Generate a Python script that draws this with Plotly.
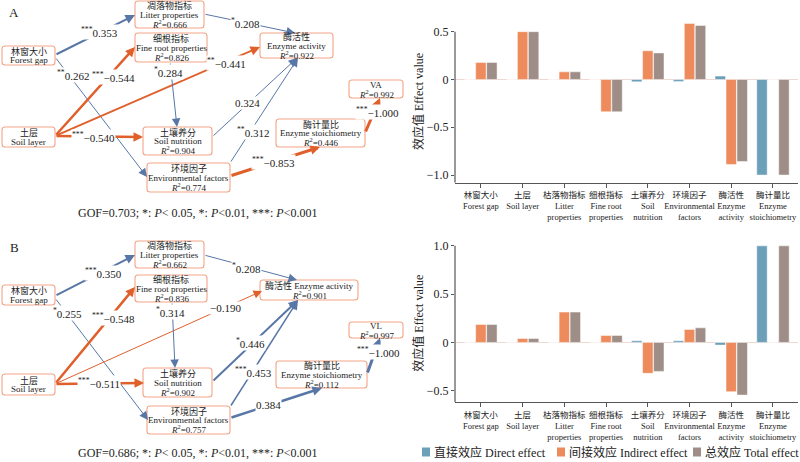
import plotly.graph_objects as go

# ---- data ----
# bar chart categories (right panels)
categories = [
    '林窗大小<br>Forest gap',
    '土层<br>Soil layer',
    '枯落物指标<br>Litter<br>properties',
    '细根指标<br>Fine root<br>properties',
    '土壤养分<br>Soil<br>nutrition',
    '环境因子<br>Environmental<br>factors',
    '酶活性<br>Enzyme<br>activity',
    '酶计量比<br>Enzyme<br>stoichiometry',
]
series_names = ['直接效应 Direct effect', '间接效应 Indirect effect', '总效应 Total effect']

# effect values, panel A (VA)
direct_a = [0, 0, 0, 0, -0.025, -0.02, 0.035, -1.0]
indirect_a = [0.178, 0.5, 0.08, -0.338, 0.30, 0.586, -0.889, 0]
total_a = [0.178, 0.5, 0.08, -0.338, 0.278, 0.565, -0.858, -1.0]

# effect values, panel B (VL)
direct_b = [0, 0, 0, 0, 0.017, 0.017, -0.028, 1.0]
indirect_b = [0.186, 0.04, 0.314, 0.072, -0.32, 0.135, -0.51, 0]
total_b = [0.186, 0.04, 0.314, 0.072, -0.30, 0.151, -0.545, 1.0]

# path model nodes (Chinese, English)
node_keys = ['litter', 'fine', 'gap', 'ea', 'resp', 'soil', 'sn', 'es', 'env']
node_cn = ['凋落物指标', '细根指标', '林窗大小', '酶活性', None, '土层', '土壤养分', '酶计量比', '环境因子']
node_en = ['Litter properties', 'Fine root properties', 'Forest gap', 'Enzyme activity', None,
           'Soil layer', 'Soil nutrition', 'Enzyme stoichiometry', 'Environmental factors']
resp_a = 'VA'
resp_b = 'VL'
r2_a = [0.666, 0.826, None, 0.922, 0.992, None, 0.904, 0.446, 0.774]
r2_b = [0.662, 0.836, None, 0.901, 0.997, None, 0.902, 0.112, 0.757]

# path coefficients and significance
coef_a = [0.353, 0.208, 0.262, -0.544, -0.441, -0.540, 0.284, 0.324, 0.312, -0.853, -1.000]
stars_a = ['***', '*', '**', '***', '**', '***', '*', '', '**', '***', '***']
coef_b = [0.350, 0.208, 0.255, -0.548, -0.190, -0.511, 0.314, 0.446, 0.453, 0.384, -1.000]
stars_b = ['***', '*', '*', '***', '', '***', '*', '*', '***', '', '***']
gof_a = 0.703
gof_b = 0.686

# ---- styles / geometry (pixel space of the diagram axis) ----
blue_bar = '#6c9fb8'
orange_bar = '#ee8b5d'
grey_bar = '#9f8e87'
orange_line = '#e0602c'
blue_line = '#5877a6'
box_line = '#f3a587'
font_family = 'Liberation Serif, Noto Sans CJK SC, serif'
text_color = '#222222'

boxes_a = {
    'litter': (135, 204, 1, 28), 'fine': (135, 207, 33, 62), 'gap': (2, 55, 46, 65),
    'ea': (260, 333, 33, 58), 'resp': (349, 403, 80, 98), 'soil': (2, 55, 127, 147),
    'sn': (143, 212, 127, 155), 'es': (276, 365, 119, 147), 'env': (147, 230, 163, 192),
}
boxes_b = {
    'litter': (135, 204, 241, 268), 'fine': (135, 207, 275, 302), 'gap': (2, 55, 285, 305),
    'ea': (260, 358, 280, 300), 'resp': (349, 403, 322, 338), 'soil': (2, 55, 374, 395),
    'sn': (143, 212, 368, 397), 'es': (276, 367, 361, 388), 'env': (147, 230, 406, 434),
}

# (tail, head, label position, colour, width)
edges_a = [
    ((55, 55), (135, 15), (99, 32), blue_line, 2),
    ((204, 14), (295, 33), (245, 23), blue_line, 1),
    ((55, 57), (147, 177), (73, 75), blue_line, 1),
    ((55, 136), (135, 47), (113, 77), orange_line, 2.5),
    ((55, 136), (260, 47), (226, 63), orange_line, 2),
    ((55, 136), (143, 137), (93, 137), orange_line, 2.5),
    ((170, 62), (177, 127), (168, 72), blue_line, 1),
    ((212, 137), (297, 58), (247, 103), blue_line, 1),
    ((230, 163), (298, 58), (253, 132), blue_line, 1),
    ((230, 176), (320, 147), (273, 162), orange_line, 3),
    ((365, 133), (380, 98), (377, 112), orange_line, 3),
]
edges_b = [
    ((55, 296), (135, 255), (103, 273), blue_line, 2),
    ((204, 255), (297, 280), (246, 268), blue_line, 1),
    ((55, 298), (148, 420), (67, 313), blue_line, 1),
    ((55, 384), (135, 287), (113, 318), orange_line, 2.5),
    ((55, 384), (262, 291), (225, 308), orange_line, 1),
    ((55, 384), (144, 383), (99, 383), orange_line, 2.5),
    ((172, 302), (175, 368), (170, 312), blue_line, 1),
    ((212, 382), (298, 300), (250, 343), blue_line, 2),
    ((230, 407), (298, 300), (253, 372), blue_line, 1.5),
    ((230, 418), (322, 388), (268, 405), blue_line, 2.5),
    ((367, 374), (380, 338), (378, 352), blue_line, 3),
]


def box_path(x0, x1, y0, y1, r=3):
    return (f'M{x0 + r},{y0} L{x1 - r},{y0} Q{x1},{y0} {x1},{y0 + r} '
            f'L{x1},{y1 - r} Q{x1},{y1} {x1 - r},{y1} L{x0 + r},{y1} '
            f'Q{x0},{y1} {x0},{y1 - r} L{x0},{y0 + r} Q{x0},{y0} {x0 + r},{y0} Z')


def fmt(v):
    return f'{v:.3f}'.replace('-', '\u2212')


W, H = 800, 462
fig = go.Figure()

# ---- bar charts ----
bar_colors = [blue_bar, orange_bar, grey_bar]
for i, vals in enumerate([direct_a, indirect_a, total_a]):
    fig.add_trace(go.Bar(x=categories, y=vals, name=series_names[i], marker_color=bar_colors[i],
                         marker_line=dict(color='rgba(255,255,255,0.6)', width=0.8),
                         xaxis='x', yaxis='y', showlegend=False))
for i, vals in enumerate([direct_b, indirect_b, total_b]):
    fig.add_trace(go.Bar(x=categories, y=vals, name=series_names[i], marker_color=bar_colors[i],
                         marker_line=dict(color='rgba(255,255,255,0.6)', width=0.8),
                         xaxis='x2', yaxis='y2', showlegend=False))

# empty trace so the diagram axis exists
fig.add_trace(go.Scatter(x=[], y=[], xaxis='x3', yaxis='y3', showlegend=False, hoverinfo='skip'))

shapes = []
annotations = []

# y axis lines of bar charts (only up to the top tick)
shapes.append(dict(type='line', xref='x domain', x0=0, x1=0, yref='y', y0=-1.08, y1=0.5,
                   line=dict(color='#555555', width=1.2)))
shapes.append(dict(type='line', xref='x2 domain', x0=0, x1=0, yref='y2', y0=-0.62, y1=1.0,
                   line=dict(color='#555555', width=1.2)))

# legend below panel B (square + text)
legend_x = [422, 557, 693]
for i, name in enumerate(series_names):
    x0 = legend_x[i]
    shapes.append(dict(type='rect', xref='paper', yref='paper',
                       x0=x0 / W, x1=(x0 + 8) / W, y0=1 - 456.5 / H, y1=1 - 447.5 / H,
                       fillcolor=bar_colors[i], line=dict(width=0)))
    annotations.append(dict(x=(x0 + 10) / W, y=1 - 452 / H, xref='paper', yref='paper',
                            xanchor='left', yanchor='middle', text=name, showarrow=False,
                            font=dict(family=font_family, size=12, color=text_color)))


def draw_panel(boxes, edges, coefs, stars, r2, resp, letter, letter_y, gof, gof_y):
    # arrows
    for (tail, head, lab, col, w) in edges:
        annotations.append(dict(
            x=head[0], y=head[1], ax=tail[0], ay=tail[1], xref='x3', yref='y3', axref='x3', ayref='y3',
            text='', showarrow=True, arrowhead=2, arrowwidth=w, arrowcolor=col,
            arrowsize=1.7 if w <= 1 else 1.9 / w, standoff=0))
    # coefficient labels
    for (tail, head, lab, col, w), c, s in zip(edges, coefs, stars):
        txt = (f'<sup>{s}</sup>' if s else '') + fmt(c)
        annotations.append(dict(x=lab[0], y=lab[1], xref='x3', yref='y3', text=txt, showarrow=False,
                                bgcolor='white', borderpad=0,
                                font=dict(family=font_family, size=11, color=text_color)))
    # node boxes and their text
    for k, key in enumerate(node_keys):
        x0, x1, y0, y1 = boxes[key]
        shapes.append(dict(type='path', xref='x3', yref='y3', path=box_path(x0, x1, y0, y1),
                           line=dict(color=box_line, width=1.1), fillcolor='white', layer='above'))
        if key == 'resp':
            lines = [resp]
        elif key == 'ea' and letter == 'B':
            lines = [node_cn[k] + ' ' + node_en[k]]
        else:
            lines = [node_cn[k], node_en[k]]
        if r2[k] is not None:
            lines.append(f'<i>R</i><sup>2</sup>={r2[k]:.3f}')
        cx = (x0 + x1) / 2
        cy = (y0 + y1) / 2
        n = len(lines)
        for j, t in enumerate(lines):
            annotations.append(dict(x=cx, y=cy + (j - (n - 1) / 2) * 9, xref='x3', yref='y3', text=t,
                                    showarrow=False, font=dict(family=font_family, size=9, color=text_color)))
    annotations.append(dict(x=14, y=letter_y, xref='x3', yref='y3', text=letter, showarrow=False,
                            font=dict(family=font_family, size=13, color=text_color)))
    annotations.append(dict(x=197, y=gof_y, xref='x3', yref='y3', showarrow=False,
                            text=f'GOF={gof:.3f}; *: <i>P</i>&lt; 0.05, *: <i>P</i>&lt;0.01, ***: <i>P</i>&lt;0.001',
                            font=dict(family=font_family, size=12, color=text_color)))


draw_panel(boxes_a, edges_a, coef_a, stars_a, r2_a, resp_a, 'A', 12, gof_a, 213)
draw_panel(boxes_b, edges_b, coef_b, stars_b, r2_b, resp_b, 'B', 247, gof_b, 453)

xdom = [455 / W, 798 / W]
tick_font = dict(family=font_family, size=12, color=text_color)
cat_font = dict(family=font_family, size=8.5, color=text_color)
ytitle = dict(text='效应值 Effect value', font=dict(family=font_family, size=12, color=text_color), standoff=0)

xaxis_common = dict(range=[-0.62, 7.6], showline=True, linecolor='#555555', linewidth=1.2,
                    ticks='outside', ticklen=4, tickcolor='#555555', tickfont=cat_font, tickangle=0,
                    showgrid=False, zeroline=False, fixedrange=True, automargin=False)
yaxis_common = dict(showline=False, ticks='outside', ticklen=3, tickcolor='#555555', tickfont=tick_font,
                    showgrid=False, zeroline=True, zerolinecolor='#efd8d0', zerolinewidth=1,
                    title=ytitle, fixedrange=True, automargin=False)

fig.update_layout(
    width=W, height=H,
    margin=dict(l=0, r=0, t=0, b=0),
    paper_bgcolor='white', plot_bgcolor='rgba(0,0,0,0)',
    showlegend=False,
    barmode='group', bargap=0.21, bargroupgap=0.05,
    xaxis=dict(domain=xdom, anchor='y', **xaxis_common),
    yaxis=dict(domain=[1 - 182.7 / H, 1 - 20.2 / H], anchor='x', range=[-1.08, 0.62],
               tickvals=[-1, -0.5, 0, 0.5], ticktext=['\u22121.0', '\u22120.5', '0', '0.5'], **yaxis_common),
    xaxis2=dict(domain=xdom, anchor='y2', **xaxis_common),
    yaxis2=dict(domain=[1 - 402.3 / H, 1 - 243.9 / H], anchor='x2', range=[-0.62, 1.02],
                tickvals=[-0.5, 0, 0.5, 1.0], ticktext=['\u22120.5', '0', '0.5', '1.0'], **yaxis_common),
    xaxis3=dict(domain=[0, 408 / W], anchor='y3', range=[0, 408], visible=False, fixedrange=True),
    yaxis3=dict(domain=[0, 1], anchor='x3', range=[H, 0], visible=False, fixedrange=True),
    shapes=shapes,
    annotations=annotations,
    font=dict(family=font_family, color=text_color),
)

# the page body has a default 8px margin; drop it so the figure fills the window
fig.write_html('out.html', config={'displayModeBar': False},
               post_script="document.body.style.margin='0px';")
